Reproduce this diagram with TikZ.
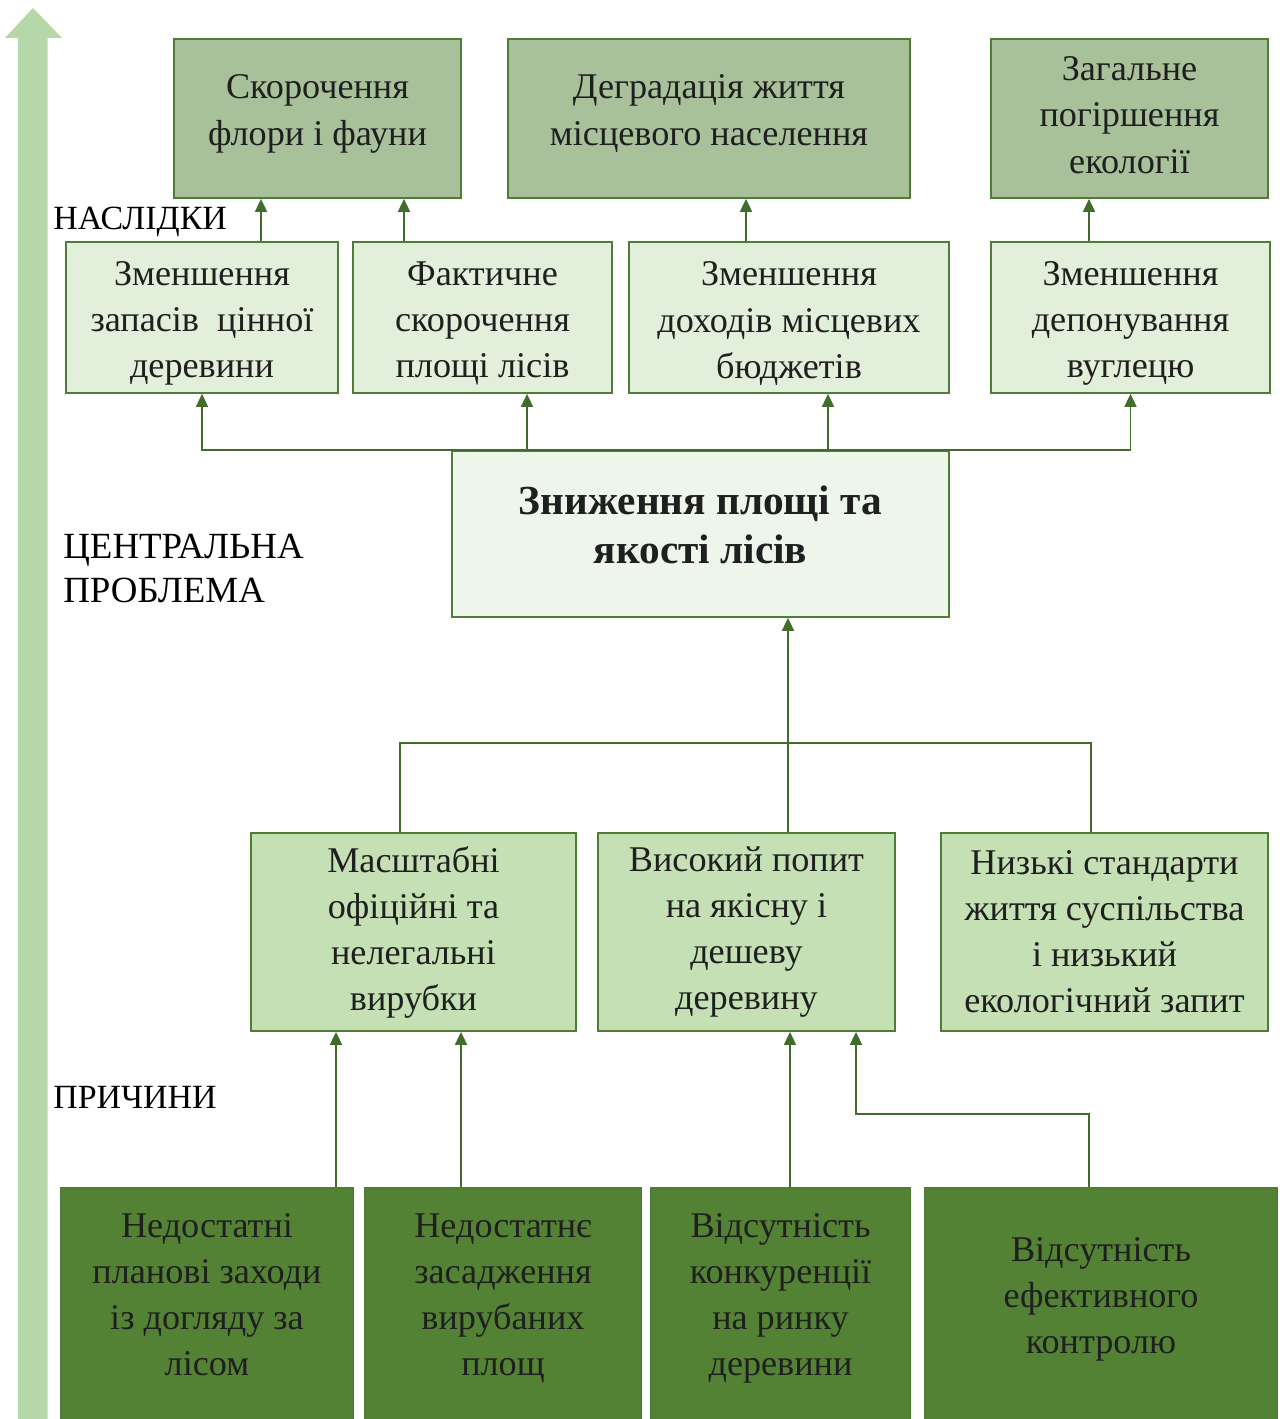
\documentclass[tikz,border=0pt]{standalone}
\usepackage{fontspec}
\setmainfont{Liberation Serif}
\usetikzlibrary{arrows.meta}

\definecolor{arrowgreen}{HTML}{B6D7A8}
\definecolor{topgreen}{HTML}{A9C19B}
\definecolor{palegreen}{HTML}{E2EFDA}
\definecolor{coregreen}{HTML}{EEF5EA}
\definecolor{midgreen}{HTML}{C5E0B4}
\definecolor{rootgreen}{HTML}{548235}
\definecolor{edgegreen}{HTML}{507D36}
\definecolor{linegreen}{HTML}{416D2C}

% extra depth under the last line, lifts the text inside a box
\newcommand\lowpad[1]{\rule[-#1]{0pt}{0pt}}
% extra height over the first line, lowers the text inside a box
\newcommand\highpad[1]{\rule{0pt}{#1}}

\begin{document}
\begin{tikzpicture}[
	box/.style={draw=edgegreen, line width=1pt, align=center, inner sep=0pt, text=black!88, font=\fontsize{20.6}{26.2}\selectfont},
	conn/.style={draw=linegreen, line width=1pt, -{Triangle[length=0.26cm,width=0.24cm]}},
	joint/.style={draw=linegreen, line width=1pt},
	tag/.style={anchor=west, align=left, inner sep=0pt, font=\fontsize{19.3}{25.5}\selectfont}
	]
	\useasboundingbox (0,0) rectangle (25.68,-28.38);

	% big arrow on the left
	\fill[arrowgreen] (0.36,-28.6) -- (0.36,-0.76) -- (0.10,-0.76) -- (0.66,-0.16) -- (1.24,-0.76) -- (0.95,-0.76) -- (0.95,-28.6) -- cycle;

	\node[tag] (effects) at (1.06,-4.44) {НАСЛІДКИ};
	\node[tag, font=\fontsize{21}{25.5}\selectfont] (core) at (1.26,-11.37) {ЦЕНТРАЛЬНА\\ПРОБЛЕМА};
	\node[tag] (causes) at (1.06,-21.94) {ПРИЧИНИ};

	% top row
	\node[box, fill=topgreen, minimum width=5.74cm, minimum height=3.18cm] (flora) at (6.35,-2.37) {Скорочення\\флори і фауни\lowpad{0.34cm}};
	\node[box, fill=topgreen, minimum width=8.04cm, minimum height=3.18cm] (people) at (14.18,-2.37) {Деградація життя\\місцевого населення\lowpad{0.34cm}};
	\node[box, fill=topgreen, minimum width=5.54cm, minimum height=3.18cm] (ecology) at (22.59,-2.37) {Загальне\\погіршення\\екології\lowpad{0.14cm}};

	% second row
	\node[box, fill=palegreen, minimum width=5.44cm, minimum height=3.02cm] (timber) at (4.04,-6.35) {\highpad{0.72cm}Зменшення\\запасів\ \ цінної\\деревини};
	\node[box, fill=palegreen, minimum width=5.18cm, minimum height=3.02cm] (area) at (9.65,-6.35) {\highpad{0.72cm}Фактичне\\скорочення\\площі лісів};
	\node[box, fill=palegreen, minimum width=6.40cm, minimum height=3.02cm] (budget) at (15.78,-6.35) {\highpad{0.72cm}Зменшення\\доходів місцевих\\бюджетів};
	\node[box, fill=palegreen, minimum width=5.58cm, minimum height=3.02cm] (carbon) at (22.61,-6.35) {\highpad{0.72cm}Зменшення\\депонування\\вуглецю};

	% central problem
	\node[box, fill=coregreen, minimum width=9.94cm, minimum height=3.32cm, font=\fontsize{23.5}{28}\selectfont\bfseries] (forest) at (14.01,-10.68) {Зниження площі та\\якості лісів\lowpad{0.36cm}};

	% third row
	\node[box, fill=midgreen, minimum width=6.50cm, minimum height=3.96cm] (logging) at (8.27,-18.64) {Масштабні\\офіційні та\\нелегальні\\вирубки};
	\node[box, fill=midgreen, minimum width=5.94cm, minimum height=3.96cm] (demand) at (14.93,-18.64) {Високий попит\\на якісну і\\дешеву\\деревину};
	\node[box, fill=midgreen, minimum width=6.54cm, minimum height=3.96cm] (living) at (22.09,-18.64) {Низькі стандарти\\життя суспільства\\і низький\\екологічний запит};

	% bottom row, runs off the page
	\node[box, fill=rootgreen, anchor=north, minimum width=5.84cm, minimum height=6cm] (care) at (4.14,-23.74) {Недостатні\\планові заходи\\із догляду за\\лісом\lowpad{1.72cm}};
	\node[box, fill=rootgreen, anchor=north, minimum width=5.52cm, minimum height=6cm] (planting) at (10.06,-23.74) {Недостатнє\\засадження\\вирубаних\\площ\lowpad{1.72cm}};
	\node[box, fill=rootgreen, anchor=north, minimum width=5.18cm, minimum height=6cm] (market) at (15.61,-23.74) {Відсутність\\конкуренції\\на ринку\\деревини\lowpad{1.72cm}};
	\node[box, fill=rootgreen, anchor=north, minimum width=7.04cm, minimum height=6cm] (control) at (22.02,-23.74) {Відсутність\\ефективного\\контролю\lowpad{1.70cm}};

	% consequences
	\draw[conn] ([xshift=1.18cm]timber.north) -- ([xshift=1.18cm]timber.north |- flora.south);
	\draw[conn] ([xshift=-1.57cm]area.north) -- ([xshift=-1.57cm]area.north |- flora.south);
	\draw[conn] ([xshift=-0.86cm]budget.north) -- ([xshift=-0.86cm]budget.north |- people.south);
	\draw[conn] ([xshift=-0.83cm]carbon.north) -- ([xshift=-0.83cm]carbon.north |- ecology.south);

	\draw[conn] (forest.north) -| (timber.south);
	\draw[conn] (forest.north) -| ([xshift=0.89cm]area.south);
	\draw[conn] (forest.north) -| ([xshift=0.78cm]budget.south);
	\draw[conn] (forest.north) -| (carbon.south);

	% causes
	\coordinate (merge) at (15.76,-14.86);
	\draw[conn] ([xshift=0.83cm]demand.north) -- ([xshift=0.83cm]demand.north |- forest.south);
	\draw[joint] ([xshift=-0.27cm]logging.north) |- (merge) -| ([xshift=-0.27cm]living.north);

	\draw[conn] ([xshift=2.58cm]care.north) -- ([xshift=2.58cm]care.north |- logging.south);
	\draw[conn] ([xshift=-0.84cm]planting.north) -- ([xshift=-0.84cm]planting.north |- logging.south);
	\draw[conn] ([xshift=0.19cm]market.north) -- ([xshift=0.19cm]market.north |- demand.south);
	\draw[conn] ([xshift=-0.24cm]control.north) -- ++(0,1.46) -| ([xshift=2.19cm]demand.south);
\end{tikzpicture}
\end{document}
